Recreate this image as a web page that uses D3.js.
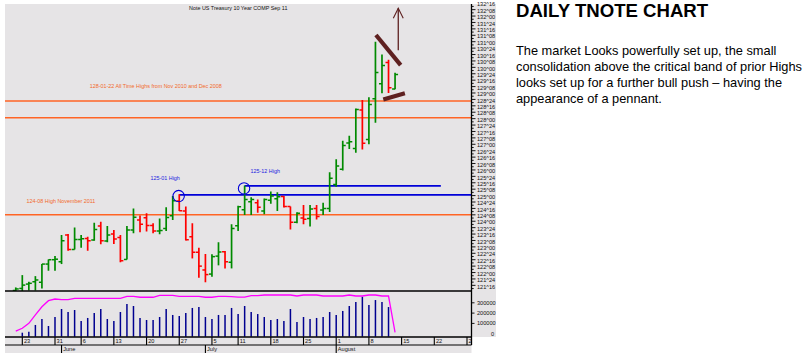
<!DOCTYPE html>
<html><head><meta charset="utf-8">
<script src="https://cdn.jsdelivr.net/npm/d3@7"></script>
<style>
html,body{margin:0;padding:0;background:#fff;}
svg{display:block;}
text{font-family:"Liberation Sans",Arial,sans-serif;}
</style></head><body>
<svg id="chart" width="804" height="356"></svg>
<script>
// ---------- DATA ----------
const days = ["2011-05-20","2011-05-23","2011-05-24","2011-05-25","2011-05-26","2011-05-27","2011-05-31",
"2011-06-01","2011-06-02","2011-06-03","2011-06-06","2011-06-07","2011-06-08","2011-06-09","2011-06-10",
"2011-06-13","2011-06-14","2011-06-15","2011-06-16","2011-06-17","2011-06-20","2011-06-21","2011-06-22",
"2011-06-23","2011-06-24","2011-06-27","2011-06-28","2011-06-29","2011-06-30","2011-07-01","2011-07-05",
"2011-07-06","2011-07-07","2011-07-08","2011-07-11","2011-07-12","2011-07-13","2011-07-14","2011-07-15",
"2011-07-18","2011-07-19","2011-07-20","2011-07-21","2011-07-22","2011-07-25","2011-07-26","2011-07-27",
"2011-07-28","2011-07-29","2011-08-01","2011-08-02","2011-08-03","2011-08-04","2011-08-05","2011-08-08",
"2011-08-09","2011-08-10","2011-08-11","2011-08-12"];

const open = [121.30,121.38,121.55,121.64,121.62,122.33,122.50,122.42,123.46,122.90,
123.29,123.33,123.27,123.81,123.23,123.50,123.37,122.51,123.66,124.05,
124.14,123.83,123.62,123.72,124.21,124.79,124.40,123.40,122.79,122.10,
121.94,122.64,122.81,122.40,123.82,124.45,124.76,124.72,124.40,124.82,
124.88,124.96,124.57,123.96,124.13,124.11,124.50,124.44,124.50,125.43,
126.03,127.05,126.84,128.34,127.19,128.78,129.36,130.19,129.16];
const high = [121.42,121.90,121.64,121.86,122.33,122.51,122.64,123.46,123.50,123.76,
123.46,123.40,123.94,123.98,123.81,123.66,123.46,123.81,124.50,124.22,
124.31,123.92,124.11,124.55,124.98,125.05,124.57,123.92,122.97,122.72,
122.71,123.18,122.84,123.88,124.60,125.39,124.94,124.85,124.89,125.16,
125.13,124.98,124.57,124.35,124.63,124.63,124.63,124.72,125.91,126.42,
127.14,127.33,128.40,128.73,128.83,131.00,130.50,130.30,129.79];
const low = [121.20,121.28,121.30,121.30,121.38,122.07,122.07,122.33,122.85,122.90,
122.97,122.85,123.24,123.10,123.18,123.11,122.40,122.51,123.53,123.57,
123.60,123.53,123.49,123.62,124.05,124.40,123.25,122.55,121.80,121.62,
121.84,122.28,122.16,122.16,123.62,124.24,124.24,124.33,124.27,124.68,
124.40,124.54,123.68,123.92,123.88,123.79,124.07,124.24,124.36,125.34,
125.98,126.82,126.67,126.80,127.00,127.84,128.99,129.00,129.15];
const close = [121.36,121.51,121.58,121.71,122.33,122.50,122.52,123.24,122.90,123.29,
123.32,123.24,123.68,123.24,123.46,123.31,122.46,123.66,124.16,123.88,
123.83,123.62,123.64,124.15,124.80,124.41,123.28,122.79,122.25,121.92,
122.62,122.80,122.42,123.72,124.56,124.85,124.85,124.55,124.85,124.98,
124.95,124.57,123.96,124.31,124.08,124.48,124.18,124.50,125.68,126.15,
126.95,127.10,128.36,127.04,128.55,129.80,130.07,129.20,129.72];
const volume = [0,39000,49000,114000,172000,104000,191000,269000,240000,259000,
152000,182000,230000,269000,172000,152000,240000,317000,298000,182000,
162000,162000,191000,269000,211000,201000,230000,279000,288000,191000,
172000,211000,211000,279000,220000,298000,240000,220000,191000,162000,
172000,152000,269000,143000,191000,172000,182000,191000,240000,211000,
250000,298000,337000,388000,308000,356000,337000,288000,0];
const openInterest = [55000,82000,130000,211000,291000,350000,366000,359000,359000,373000,
373000,373000,373000,373000,373000,373000,373000,392000,392000,383000,
383000,383000,402000,402000,402000,392000,392000,392000,392000,383000,
383000,392000,392000,390000,385000,385000,398000,398000,405000,405000,
405000,405000,405000,395000,405000,405000,405000,395000,395000,395000,
395000,405000,395000,395000,405000,405000,395000,395000,43000];

const weekTickIndex  = [1,6,10,15,20,25,30,34,39,44,49,54,59,64,69];
const weekTickLabels = ["23","31","6","13","20","27","5","11","18","25","1","8","15","22","29"];
const monthTickIndex = [7,29,49];
const monthLabels    = ["June","July","August"];
const volumeTicks    = [0,100000,200000,300000];
const priceTickStep  = 0.25;   // labels every 8/32
const priceMinorStep = 0.125;  // ticks every 4/32

const orangeLevels = [128+22/32, 128+1/32, 124+8/32];
const blueLevels = [ {price:125+1/32, from:25, to:null}, {price:125+12/32, from:35, to:65} ];
const circles = [ {i:25, price:124.98}, {i:35, price:125.28} ];

const title = "Note US Treasury 10 Year COMP Sep 11";
const notes = [
  {text:"128-01-22 All Time Highs from Nov 2010 and Dec 2008", i:11.3, price:129.26, color:"#f26a2c"},
  {text:"124-08 High November 2011", i:1.65, price:124.78, color:"#f26a2c"},
  {text:"125-01 High", i:20.6, price:125.70, color:"#2323e0"},
  {text:"125-12 High", i:35.9, price:125.97, color:"#2323e0"}
];
// drawn pennant/arrow annotation in (day index, price)
const pennant = [ [[55.08,131.26],[58.86,130.09]], [[56.2,128.75],[59.5,128.99]] ];
const arrow = {i:58.49, from:130.67, to:132.30, wing:0.76, wingPrice:131.91};

const headline = "DAILY TNOTE CHART";
const para = ["The market Looks powerfully set up, the small",
  "consolidation above the critical band of prior Highs",
  "looks set up for a further bull push \u2013 having the",
  "appearance of a pennant."];

// ---------- LAYOUT ----------
const BG = "#e6e4e6";
const paneL = 5, paneR = 471.5, priceTop = 4, priceBot = 291, volBot = 337, dateBot = 345, monthBot = 353, gutterR = 496;
const svg = d3.select("#chart");

svg.append("rect").attr("x",paneL).attr("y",priceTop).attr("width",gutterR-paneL).attr("height",volBot-priceTop).attr("fill",BG);
svg.append("rect").attr("x",paneL).attr("y",volBot).attr("width",paneR-paneL).attr("height",monthBot-volBot).attr("fill",BG);

const x = d3.scaleLinear().domain([0,69]).range([15.76,467.0]);
const y = d3.scaleLinear().domain([121.28,132.47]).range([priceBot,priceTop]);
const vy = d3.scaleLinear().domain([0,400000]).range([336.7,295.5]);

const defs = svg.append("defs");
defs.append("clipPath").attr("id","pclip").append("rect")
  .attr("x",paneL).attr("y",priceTop).attr("width",paneR-paneL).attr("height",priceBot-priceTop);
defs.append("clipPath").attr("id","dclip").append("rect")
  .attr("x",paneL).attr("y",volBot).attr("width",paneR-paneL).attr("height",monthBot-volBot);

const pg = svg.append("g").attr("clip-path","url(#pclip)");

// level lines
pg.selectAll("line.orange").data(orangeLevels).join("line")
  .attr("x1",paneL).attr("x2",paneR).attr("y1",d=>y(d)).attr("y2",d=>y(d))
  .attr("stroke","#ff6424").attr("stroke-width",1.5);
pg.selectAll("line.blue").data(blueLevels).join("line")
  .attr("x1",d=>x(d.from)).attr("x2",d=>d.to===null?paneR:x(d.to))
  .attr("y1",d=>y(d.price)).attr("y2",d=>y(d.price))
  .attr("stroke","#0000d8").attr("stroke-width",1.8);

// OHLC bars
const idx = d3.range(days.length);
const col = i => close[i] >= open[i] ? "#008a00" : "#ff0000";
const bars = pg.selectAll("g.bar").data(idx).join("g");
bars.append("line").attr("x1",i=>x(i)).attr("x2",i=>x(i)).attr("y1",i=>y(high[i])).attr("y2",i=>y(low[i]))
  .attr("stroke",col).attr("stroke-width",1.7);
bars.append("line").attr("x1",i=>x(i)-3).attr("x2",i=>x(i)).attr("y1",i=>y(open[i])).attr("y2",i=>y(open[i]))
  .attr("stroke",col).attr("stroke-width",1.5);
bars.append("line").attr("x1",i=>x(i)).attr("x2",i=>x(i)+3).attr("y1",i=>y(close[i])).attr("y2",i=>y(close[i]))
  .attr("stroke",col).attr("stroke-width",1.5);

// circles
pg.selectAll("circle").data(circles).join("circle")
  .attr("cx",d=>x(d.i)-0.6).attr("cy",d=>y(d.price)).attr("r",5.7)
  .attr("fill","none").attr("stroke","#0000d8").attr("stroke-width",1.1);

// notes
pg.selectAll("text.note").data(notes).join("text")
  .attr("x",d=>x(d.i)).attr("y",d=>y(d.price)).attr("dy","0.35em")
  .attr("font-size",5.4).attr("fill",d=>d.color).text(d=>d.text);

svg.append("text").attr("x",(paneL+paneR)/2).attr("y",8).attr("dy","0.35em").attr("text-anchor","middle")
  .attr("font-size",5.4).attr("fill","#111").text(title);

// pennant
const pcol = "#5e2020";
pg.selectAll("line.pen").data(pennant).join("line")
  .attr("x1",d=>x(d[0][0])).attr("y1",d=>y(d[0][1])).attr("x2",d=>x(d[1][0])).attr("y2",d=>y(d[1][1]))
  .attr("stroke",pcol).attr("stroke-width",4.2);
pg.append("line").attr("x1",x(arrow.i)).attr("x2",x(arrow.i)).attr("y1",y(arrow.from)).attr("y2",y(arrow.to))
  .attr("stroke",pcol).attr("stroke-width",1.3);
pg.append("path")
  .attr("d",`M${x(arrow.i-arrow.wing)},${y(arrow.wingPrice)}L${x(arrow.i)},${y(arrow.to)}L${x(arrow.i+arrow.wing)},${y(arrow.wingPrice)}`)
  .attr("fill","none").attr("stroke",pcol).attr("stroke-width",1.1);

// volume
const vg = svg.append("g");
vg.selectAll("line.vol").data(idx.filter(i=>volume[i]>0)).join("line")
  .attr("x1",i=>x(i)).attr("x2",i=>x(i)).attr("y1",vy(0)).attr("y2",i=>vy(volume[i]))
  .attr("stroke","#000090").attr("stroke-width",1.5);
vg.append("path").datum(idx)
  .attr("d",d3.line().x(i=>x(i)).y(i=>vy(openInterest[i])))
  .attr("fill","none").attr("stroke","#ff00ff").attr("stroke-width",1.3);

// frame lines
const blk = "#000";
svg.append("line").attr("x1",paneL).attr("x2",paneR).attr("y1",priceBot).attr("y2",priceBot).attr("stroke",blk).attr("stroke-width",1.5);
svg.append("line").attr("x1",paneL).attr("x2",paneR).attr("y1",volBot).attr("y2",volBot).attr("stroke",blk).attr("stroke-width",1.5);
svg.append("line").attr("x1",paneL).attr("x2",paneR).attr("y1",dateBot).attr("y2",dateBot).attr("stroke",blk).attr("stroke-width",1.2);
svg.append("line").attr("x1",paneR).attr("x2",paneR).attr("y1",priceTop).attr("y2",dateBot).attr("stroke",blk).attr("stroke-width",1.3);

// price axis
const minor = d3.range(121.375, 132.47, priceMinorStep);
svg.selectAll("line.ptick").data(minor).join("line")
  .attr("x1",paneR).attr("x2",d=>paneR + (Math.abs(d/priceTickStep - Math.round(d/priceTickStep))<1e-6 ? 4 : 2.2))
  .attr("y1",d=>y(d)).attr("y2",d=>y(d)).attr("stroke",blk).attr("stroke-width",0.9);
const fmt32 = p => { const w=Math.floor(p+1e-9); const t=Math.round((p-w)*32); return w+"^"+String(t).padStart(2,"0"); };
const majors = d3.range(121.5, 132.51, priceTickStep);
svg.selectAll("text.plab").data(majors).join("text")
  .attr("x",477).attr("y",d=>y(d)+1.2).attr("dy","0.35em").attr("font-size",5.6).attr("fill","#111")
  .text(fmt32);

// volume axis
svg.selectAll("line.vtick").data(volumeTicks.slice(1)).join("line")
  .attr("x1",paneR).attr("x2",paneR+3).attr("y1",d=>vy(d)-3).attr("y2",d=>vy(d)-3).attr("stroke",blk).attr("stroke-width",0.9);
svg.selectAll("text.vlab").data(volumeTicks).join("text")
  .attr("x",d=>d===0?491:477).attr("y",d=>vy(d)-3).attr("dy","0.35em").attr("font-size",5.6).attr("fill","#111")
  .text(d=>String(d));

// date axis
const dg = svg.append("g").attr("clip-path","url(#dclip)");
dg.selectAll("line.wk").data(weekTickIndex).join("line")
  .attr("x1",d=>x(d)).attr("x2",d=>x(d)).attr("y1",volBot).attr("y2",dateBot).attr("stroke",blk).attr("stroke-width",1.1);
dg.selectAll("text.wk").data(weekTickIndex).join("text")
  .attr("x",d=>x(d)+1.6).attr("y",341.3).attr("dy","0.35em").attr("font-size",5.6).attr("fill","#111")
  .text((d,k)=>weekTickLabels[k]);
dg.selectAll("line.mo").data(monthTickIndex).join("line")
  .attr("x1",d=>x(d)).attr("x2",d=>x(d)).attr("y1",dateBot).attr("y2",monthBot).attr("stroke",blk).attr("stroke-width",1.1);
dg.selectAll("text.mo").data(monthTickIndex).join("text")
  .attr("x",d=>x(d)+1.6).attr("y",349.3).attr("dy","0.35em").attr("font-size",5.6).attr("fill","#111")
  .text((d,k)=>monthLabels[k]);

// right-hand commentary
svg.append("text").attr("x",516).attr("y",16.8).attr("font-size",18.6).attr("font-weight","bold").attr("fill","#000").text(headline);
svg.selectAll("text.para").data(para).join("text")
  .attr("x",516).attr("y",(d,k)=>54.5+k*16).attr("font-size",12.8).attr("fill","#000").text(d=>d);
</script>
</body></html>
